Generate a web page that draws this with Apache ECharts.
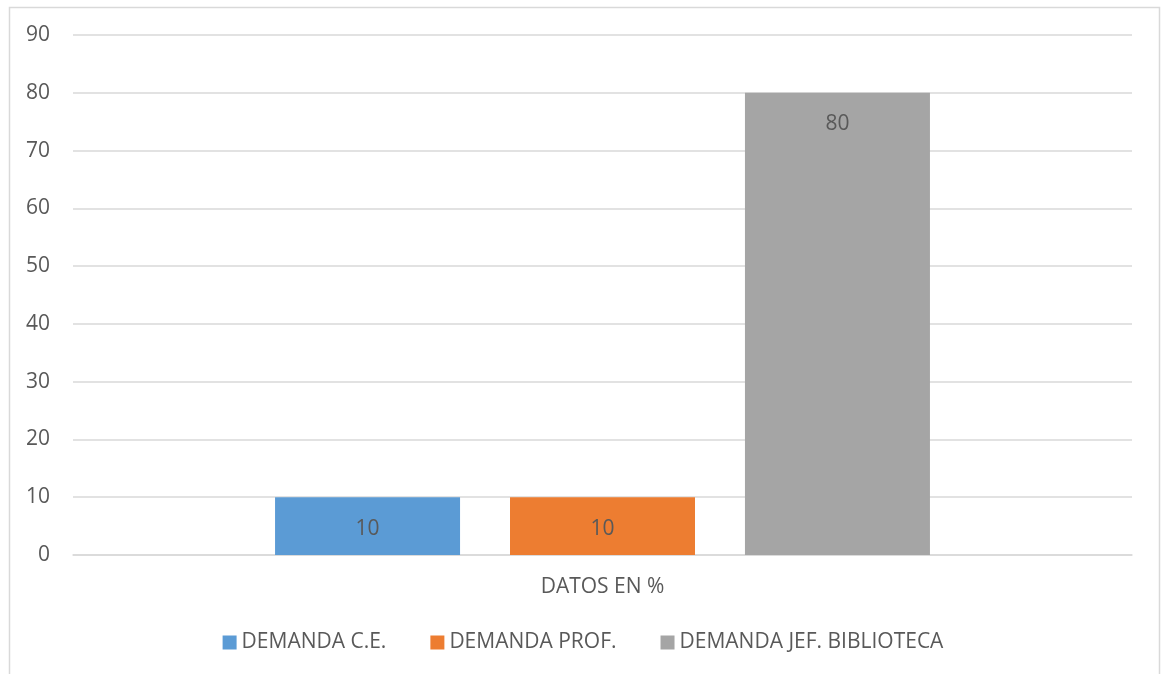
<!DOCTYPE html>
<html>
<head>
<meta charset="utf-8">
<script src="https://cdn.jsdelivr.net/npm/echarts@6/dist/echarts.min.js"></script>
<style>
  html, body { margin: 0; padding: 0; background: #fff; }
  #chart { width: 1166px; height: 674px; }
</style>
</head>
<body>
<div id="chart"></div>
<script>
// datos del grafico
const categories = ['DATOS EN %'];
const seriesNames = ['DEMANDA C.E.', 'DEMANDA PROF.', 'DEMANDA JEF. BIBLIOTECA'];
const demandaCE = [10];
const demandaProf = [10];
const demandaJef = [80];
const colors = ['#5B9BD5', '#ED7D31', '#A5A5A5'];

const font = '"Open Sans", "Liberation Sans", sans-serif';
const textColor = '#595959';
const fs = 21;

const chart = echarts.init(document.getElementById('chart'));

function bar(name, data, color) {
  return {
    name: name,
    type: 'bar',
    data: data,
    barWidth: 185,
    barGap: '27%',
    itemStyle: { color: color },
    label: {
      show: true,
      position: 'insideTop',
      distance: 21,
      color: textColor,
      fontFamily: font,
      fontSize: fs
    }
  };
}

chart.setOption({
  animation: false,
  textStyle: { fontFamily: font },
  graphic: [{
    type: 'rect',
    shape: { x: 9.5, y: 7.5, width: 1150, height: 700 },
    style: { fill: 'none', stroke: '#D9D9D9', lineWidth: 1.5 },
    silent: true,
    z: -1
  }],
  grid: { left: 73, right: 34, top: 35, bottom: 119 },
  legend: {
    bottom: 16,
    left: 'center',
    itemWidth: 14,
    itemHeight: 14,
    itemGap: 44,
    icon: 'rect',
    textStyle: { color: textColor, fontSize: fs, fontFamily: font },
    data: seriesNames
  },
  xAxis: {
    type: 'category',
    data: categories,
    axisLine: { lineStyle: { color: '#D9D9D9', width: 1.5 } },
    axisTick: { show: false },
    axisLabel: { color: textColor, fontSize: fs, fontFamily: font, margin: 22 }
  },
  yAxis: {
    type: 'value',
    min: 0,
    max: 90,
    interval: 10,
    axisLine: { show: false },
    axisTick: { show: false },
    axisLabel: { color: textColor, fontSize: fs, fontFamily: font, margin: 23 },
    splitLine: { lineStyle: { color: '#D9D9D9', width: 1.5 } }
  },
  series: [
    bar(seriesNames[0], demandaCE, colors[0]),
    bar(seriesNames[1], demandaProf, colors[1]),
    bar(seriesNames[2], demandaJef, colors[2])
  ]
});
</script>
</body>
</html>
